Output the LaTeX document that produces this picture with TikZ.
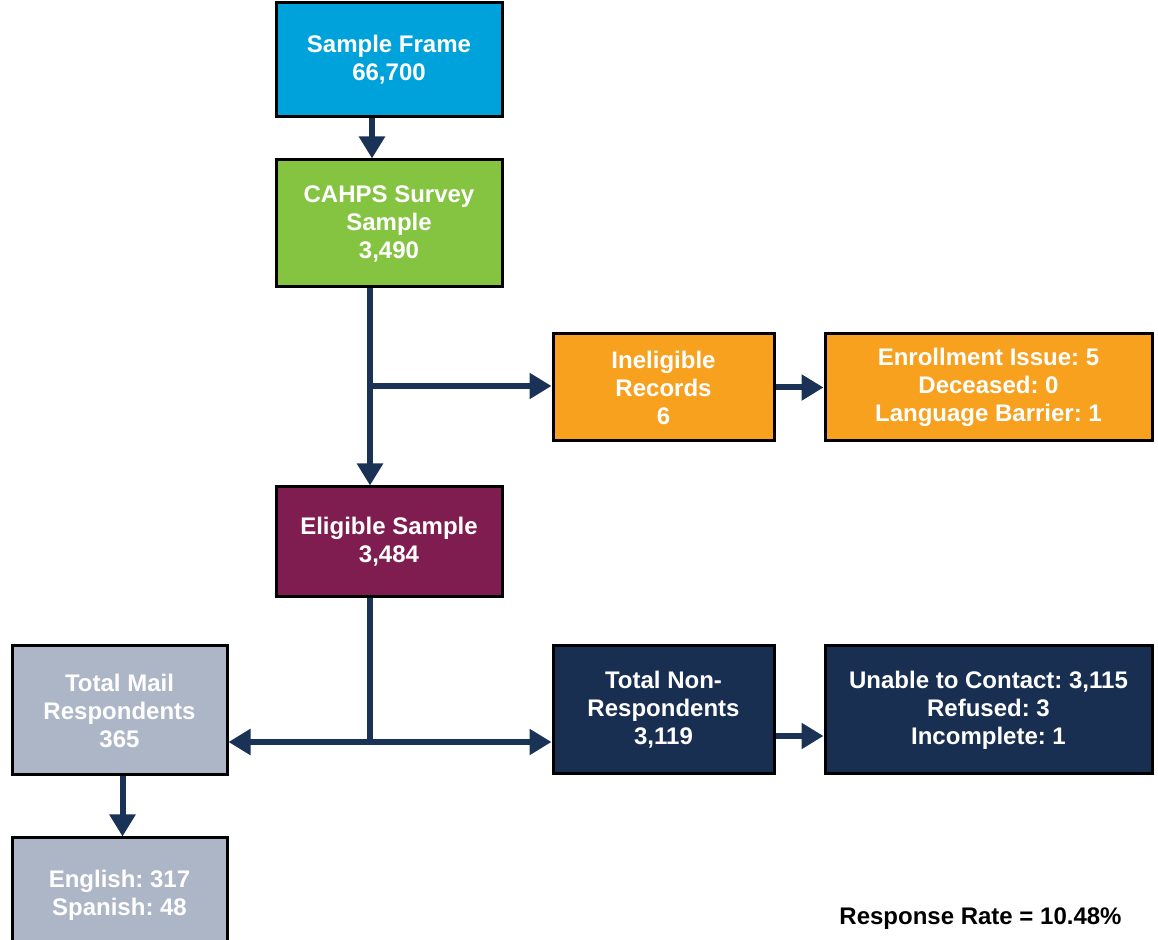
\documentclass[tikz,border=0pt]{standalone}
\usepackage{fontspec}
\setmainfont{Liberation Sans}
\usetikzlibrary{arrows.meta,calc}

\definecolor{frameblue}{HTML}{00A2DB}
\definecolor{samplegreen}{HTML}{84C441}
\definecolor{inelorange}{HTML}{F7A11F}
\definecolor{eligmaroon}{HTML}{7F1C50}
\definecolor{mailgray}{HTML}{ADB6C7}
\definecolor{nonnavy}{HTML}{182F52}
\definecolor{flownavy}{HTML}{1B3257}

\frenchspacing

\begin{document}
\begin{tikzpicture}[x=0.5pt, y=-0.5pt,
    box/.style={draw=black, line width=1.5pt, text=white, align=center, inner sep=2pt,
        font=\bfseries\fontsize{12}{14}\selectfont},
    flow/.style={draw=flownavy, line width=3pt, -{Triangle[length=11pt,width=12.5pt]}},
    trunk/.style={draw=flownavy, line width=3pt}]

        \useasboundingbox (0,0) rectangle (1158,940);

        % boxes
        \node[box, fill=frameblue, minimum width=113pt, minimum height=57pt] (frame) at (389,60) {Sample Frame\\66,700};
        \node[box, fill=samplegreen, minimum width=113pt, minimum height=63.5pt] (cahps) at (389,223.5) {CAHPS Survey\\Sample\\3,490};
        \node[box, fill=inelorange, minimum width=110.5pt, minimum height=53.5pt] (inelig) at (663.5,387.5) {Ineligible\\Records\\6};
        \node[box, fill=inelorange, minimum width=163.5pt, minimum height=53.5pt] (reasons) at (988.5,387.5) {Enrollment Issue: 5\\Deceased: 0\\Language Barrier: 1};
        \node[box, fill=eligmaroon, minimum width=113pt, minimum height=55pt] (eligible) at (389,542) {Eligible Sample\\3,484};
        \node[box, fill=mailgray, minimum width=107.5pt, minimum height=64.5pt] (mail) at (119.5,710.5) {Total Mail\\Respondents\\365};
        \node[box, fill=nonnavy, minimum width=110.5pt, minimum height=64pt] (nonresp) at (663.5,710) {Total Non-\\Respondents\\3,119};
        \node[box, fill=nonnavy, minimum width=163.5pt, minimum height=64pt] (contact) at (988.5,710) {Unable to Contact: 3,115\\Refused: 3\\Incomplete: 1};
        \node[box, fill=mailgray, minimum width=107.5pt, minimum height=57pt] (lang) at (119.5,895) {English: 317\\Spanish: 48};

        \node[font=\bfseries\fontsize{12}{14}\selectfont, anchor=base east, inner sep=0pt] (rate) at (1122,925) {Response Rate = 10.48\%};

        % connectors
        \coordinate (split) at (370,386);
        \coordinate (hub) at (370,742);

        \draw[flow] ([xshift=-8.5pt]frame.south) -- ([xshift=-8.5pt]cahps.north);
        \draw[flow] (cahps.south -| split) -- (eligible.north -| split);
        \draw[flow] (split) -- (split -| inelig.west);
        \draw[flow] (inelig.east |- reasons.west) -- (reasons.west);
        \draw[trunk] (eligible.south -| hub) -- (hub);
        \draw[flow] (hub) -- (hub -| mail.east);
        \draw[flow] (hub) -- (hub -| nonresp.west);
        \draw[flow] ([yshift=-13pt]nonresp.east) -- ([yshift=-13pt]contact.west);
        \draw[flow] ([xshift=1.5pt]mail.south) -- ([xshift=1.5pt]lang.north);

\end{tikzpicture}
\end{document}
